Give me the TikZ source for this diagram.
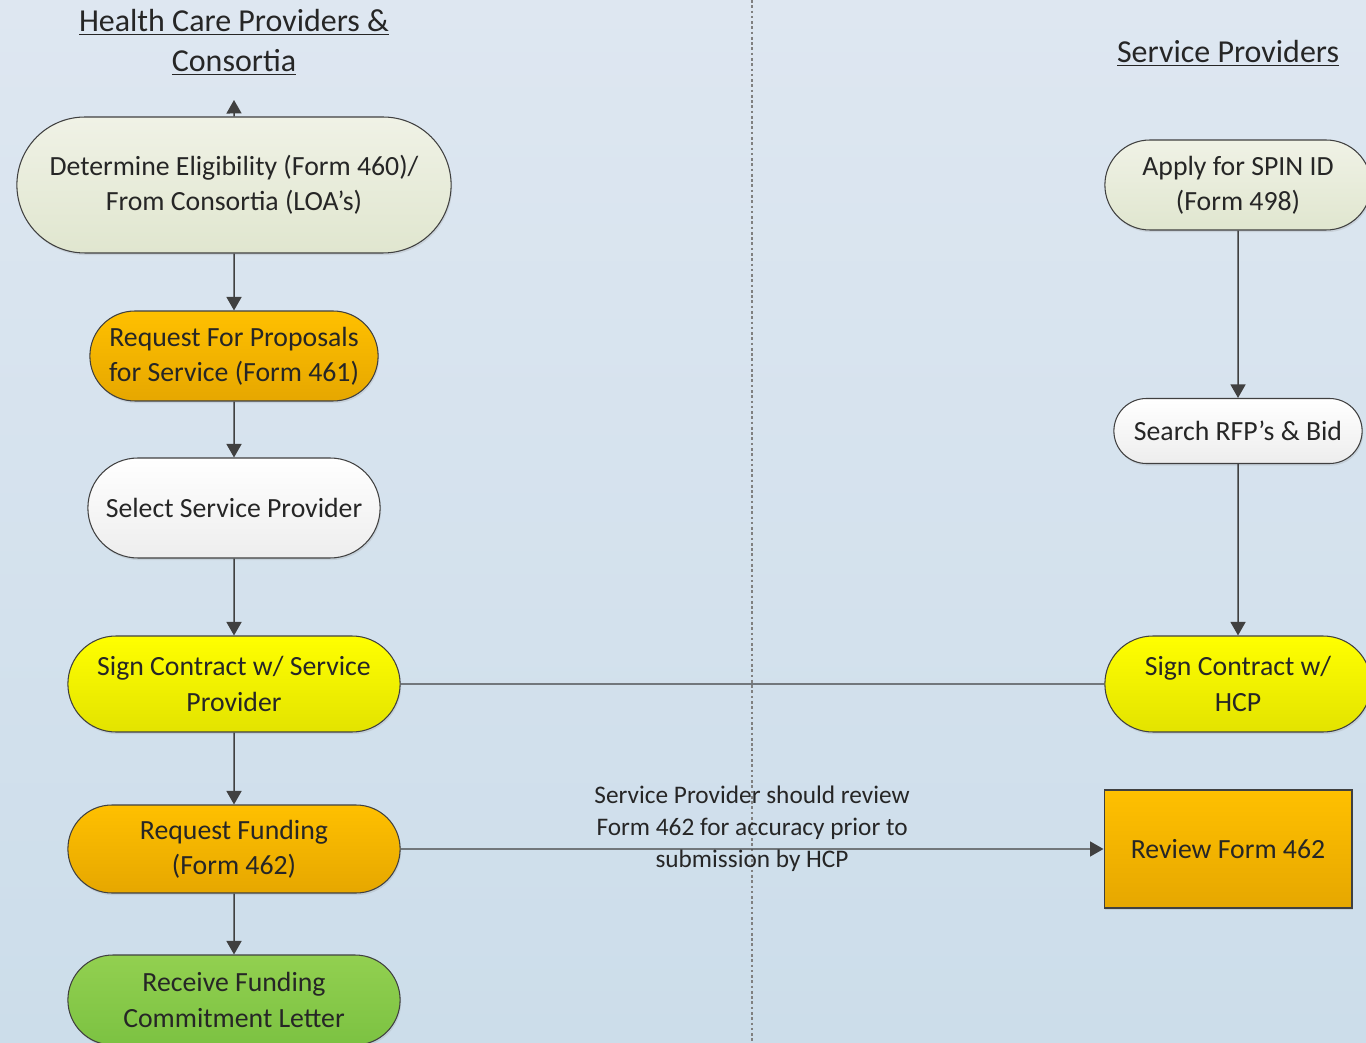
\documentclass[tikz,border=0pt]{standalone}
\usepackage{fontspec}
\setmainfont{Carlito}
\usepackage{tikz}
\usetikzlibrary{arrows.meta,shapes.misc,shadows}
\definecolor{bgtop}{HTML}{DEE7F1}
\definecolor{bgbot}{HTML}{CCDDEA}
\definecolor{linegray}{HTML}{404040}
\definecolor{textgray}{HTML}{262626}
\definecolor{paletop}{HTML}{F0F2E6}
\definecolor{palebot}{HTML}{E0E6CF}
\definecolor{orangetop}{HTML}{FFC000}
\definecolor{orangebot}{HTML}{E6A700}
\definecolor{yellowtop}{HTML}{FFFF00}
\definecolor{yellowbot}{HTML}{E3E300}
\definecolor{greentop}{HTML}{92D050}
\definecolor{greenbot}{HTML}{7CC242}

\begin{document}
\begin{tikzpicture}[x=0.02cm, y=-0.02cm,
            stepnode/.style = {draw=linegray, line width=0.6pt, align=center,
                                text=textgray, font=\fontsize{15.8}{20}\selectfont,
                                drop shadow={opacity=0.18, shadow xshift=0.6pt, shadow yshift=-1.2pt}},
            stadium/.style = {stepnode, rounded rectangle},
            pale/.style = {top color=paletop, bottom color=palebot},
            orange/.style = {top color=orangetop, bottom color=orangebot},
            plain/.style = {top color=white, bottom color=black!7},
            yellow/.style = {top color=yellowtop, bottom color=yellowbot},
            green/.style = {top color=greentop, bottom color=greenbot},
            heading/.style = {align=center, text=textgray, font=\fontsize{18.2}{22.8}\selectfont},
            conn/.style = {draw=linegray, line width=0.85pt},
            arr/.style = {conn, -{Triangle[width=0.3cm, length=0.27cm]}}]
    \useasboundingbox (0,0) rectangle (1366,1043);
    \shade[top color=bgtop, bottom color=bgbot] (0,0) rectangle (1366,1043);
    \draw[gray, line width=0.6pt, dash pattern=on 1.5pt off 1.5pt] (752,0) -- (752,1043);

    \node[heading] (hcp) at (234,42) {\underline{Health Care Providers \&}\\\underline{Consortia}};
    \node[heading] (sp) at (1228,53) {\underline{Service Providers}};

    \node[stadium, pale, minimum width=8.92cm, minimum height=2.72cm] (elig) at (234,185)
        {Determine Eligibility (Form 460)/\\From Consortia (LOA’s)};
    \node[stadium, orange, minimum width=6.0cm, minimum height=1.8cm] (rfp) at (234,356)
        {Request For Proposals\\for Service (Form 461)};
    \node[stadium, plain, minimum width=6.08cm, minimum height=2cm] (select) at (234,508)
        {Select Service Provider};
    \node[stadium, yellow, minimum width=6.88cm, minimum height=1.92cm] (signhcp) at (234,684)
        {Sign Contract w/ Service\\Provider};
    \node[stadium, orange, minimum width=6.88cm, minimum height=1.76cm] (fund) at (234,849)
        {Request Funding\\(Form 462)};
    \node[stadium, green, minimum width=6.88cm, minimum height=1.8cm] (fcl) at (234,1000)
        {Receive Funding\\Commitment Letter};

    \node[stadium, pale, minimum width=5.56cm, minimum height=1.8cm] (spin) at (1238,185)
        {Apply for SPIN ID\\(Form 498)};
    \node[stadium, plain, minimum width=5.2cm, minimum height=1.3cm] (search) at (1238,431)
        {Search RFP’s \& Bid};
    \node[stadium, yellow, minimum width=5.56cm, minimum height=1.92cm] (signsp) at (1238,684)
        {Sign Contract w/\\HCP};
    \node[stepnode, rectangle, orange, minimum width=4.96cm, minimum height=2.36cm] (review) at (1228,849)
        {Review Form 462};

    \coordinate (up) at (234,100);
    \draw[arr] (elig) -- (up);
    \draw[arr] (elig) -- (rfp);
    \draw[arr] (rfp) -- (select);
    \draw[arr] (select) -- (signhcp);
    \draw[arr] (signhcp) -- (fund);
    \draw[arr] (fund) -- (fcl);
    \draw[arr] (spin) -- (search);
    \draw[arr] (search) -- (signsp);
    \draw[conn] (signhcp) -- (signsp);
    \draw[arr] (fund) -- node[midway, yshift=0.4cm, align=center, text=textgray,
                              font=\fontsize{14.4}{18.2}\selectfont]
        {Service Provider should review\\Form 462 for accuracy prior to\\submission by HCP} (review);
\end{tikzpicture}
\end{document}
